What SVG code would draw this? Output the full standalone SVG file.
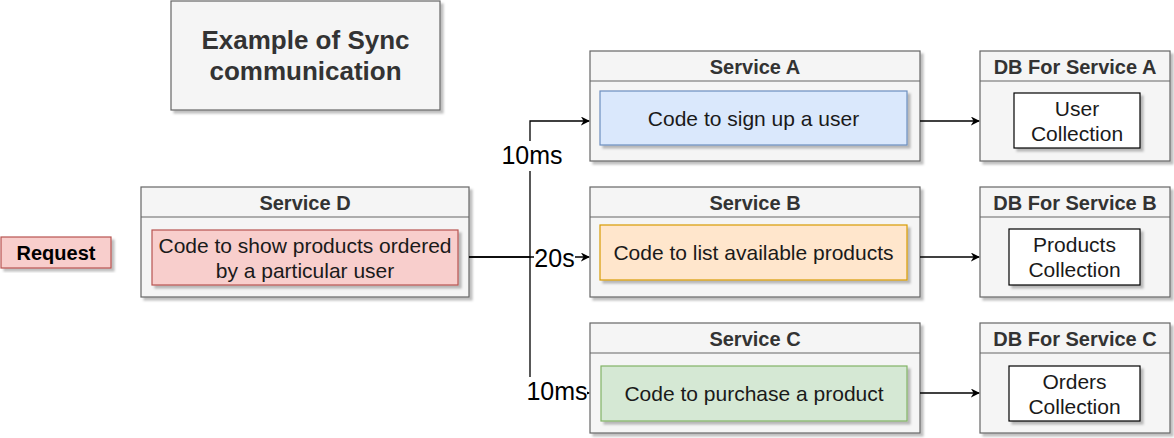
<svg xmlns="http://www.w3.org/2000/svg" width="1174" height="438" viewBox="0 0 1174 438">
<defs>
<filter id="sh" x="-5%" y="-5%" width="115%" height="120%">
<feDropShadow dx="3" dy="3" stdDeviation="0.8" flood-color="#000" flood-opacity="0.25"/>
</filter>
<marker id="arr" viewBox="0 0 10 10" refX="9" refY="5" markerWidth="9" markerHeight="9" markerUnits="userSpaceOnUse" orient="auto">
<path d="M0,0 L10,5 L0,10 L3,5 z" fill="#000"/>
</marker>
</defs>
<style>
.cont{fill:#f5f5f5;stroke:#666666;stroke-width:1.2;filter:url(#sh)}
.hline{stroke:#666666;stroke-width:1.2;fill:none}
.hd{font-family:"Liberation Sans",Arial,sans-serif;font-weight:bold;font-size:20px;fill:#333333;text-anchor:middle}
.tx{font-family:"Liberation Sans",Arial,sans-serif;font-size:21px;fill:#1a1a1a;text-anchor:middle}
.lbl{font-family:"Liberation Sans",Arial,sans-serif;font-size:25px;fill:#000;text-anchor:middle}
.blue{fill:#dae8fc;stroke:#6c8ebf;stroke-width:1.2;filter:url(#sh)}
.orange{fill:#ffe6cc;stroke:#d79b00;stroke-width:1.2;filter:url(#sh)}
.green{fill:#d5e8d4;stroke:#82b366;stroke-width:1.2;filter:url(#sh)}
.red{fill:#f8cecc;stroke:#b85450;stroke-width:1.2;filter:url(#sh)}
.white{fill:#ffffff;stroke:#000000;stroke-width:1.2;filter:url(#sh)}
.edge{stroke:#000;stroke-width:1.3;fill:none}
</style>

<g id="title">
<rect x="171" y="1" width="269" height="109" class="cont"/>
<text x="305.5" y="49" style="font-family:'Liberation Sans',Arial,sans-serif;font-weight:bold;font-size:26px;fill:#333333;text-anchor:middle">Example of Sync</text>
<text x="305.5" y="80" style="font-family:'Liberation Sans',Arial,sans-serif;font-weight:bold;font-size:26px;fill:#333333;text-anchor:middle">communication</text>
</g>

<g id="request">
<rect x="1" y="237" width="110" height="31" class="red"/>
<text x="56" y="260" style="font-family:'Liberation Sans',Arial,sans-serif;font-weight:bold;font-size:20px;fill:#000;text-anchor:middle">Request</text>
</g>

<g id="serviceD">
<rect x="141" y="187" width="328" height="110" class="cont"/>
<line x1="141" y1="217" x2="469" y2="217" class="hline"/>
<text x="305" y="210" class="hd">Service D</text>
<rect x="152" y="230" width="306" height="55" class="red"/>
<text x="305" y="252.5" class="tx">Code to show products ordered</text>
<text x="305" y="277.5" class="tx">by a particular user</text>
</g>

<g id="serviceA">
<rect x="590" y="51" width="330" height="110" class="cont"/>
<line x1="590" y1="81" x2="920" y2="81" class="hline"/>
<text x="755" y="74" class="hd">Service A</text>
<rect x="600" y="91" width="307" height="54" class="blue"/>
<text x="753.5" y="125.5" class="tx">Code to sign up a user</text>
</g>

<g id="serviceB">
<rect x="590" y="187" width="330" height="110" class="cont"/>
<line x1="590" y1="217" x2="920" y2="217" class="hline"/>
<text x="755" y="210" class="hd">Service B</text>
<rect x="600" y="225" width="307" height="55" class="orange"/>
<text x="753.5" y="260" class="tx">Code to list available products</text>
</g>

<g id="serviceC">
<rect x="590" y="323" width="330" height="110" class="cont"/>
<line x1="590" y1="353" x2="920" y2="353" class="hline"/>
<text x="755" y="346" class="hd">Service C</text>
<rect x="601" y="366" width="306" height="55" class="green"/>
<text x="754" y="401" class="tx">Code to purchase a product</text>
</g>

<g id="dbA">
<rect x="980" y="51" width="190" height="110" class="cont"/>
<line x1="980" y1="81" x2="1170" y2="81" class="hline"/>
<text x="1075" y="74" class="hd">DB For Service A</text>
<rect x="1014" y="93" width="126" height="55" class="white"/>
<text x="1077" y="115.5" class="tx">User</text>
<text x="1077" y="140.5" class="tx">Collection</text>
</g>

<g id="dbB">
<rect x="980" y="187" width="190" height="110" class="cont"/>
<line x1="980" y1="217" x2="1170" y2="217" class="hline"/>
<text x="1075" y="210" class="hd">DB For Service B</text>
<rect x="1009" y="229" width="131" height="56" class="white"/>
<text x="1074.5" y="252" class="tx">Products</text>
<text x="1074.5" y="277" class="tx">Collection</text>
</g>

<g id="dbC">
<rect x="980" y="323" width="190" height="110" class="cont"/>
<line x1="980" y1="353" x2="1170" y2="353" class="hline"/>
<text x="1075" y="346" class="hd">DB For Service C</text>
<rect x="1009" y="366" width="131" height="55" class="white"/>
<text x="1074.5" y="388.5" class="tx">Orders</text>
<text x="1074.5" y="413.5" class="tx">Collection</text>
</g>

<g id="connectors">
<path d="M469,257 L530,257 L530,121 L589,121" class="edge" marker-end="url(#arr)"/>
<path d="M469,257 L589,257" class="edge" marker-end="url(#arr)"/>
<path d="M530,257 L530,393 L589,393" class="edge" marker-end="url(#arr)"/>
<path d="M920,121 L979,121" class="edge" marker-end="url(#arr)"/>
<path d="M920,257 L979,257" class="edge" marker-end="url(#arr)"/>
<path d="M920,393 L979,393" class="edge" marker-end="url(#arr)"/>
<rect x="502" y="141" width="60" height="30" fill="#fff"/>
<text x="532" y="163.5" class="lbl">10ms</text>
<rect x="534" y="244" width="41" height="28" fill="#fff"/>
<text x="554.5" y="266.5" class="lbl">20s</text>
<rect x="527" y="377" width="60" height="28" fill="#fff"/>
<text x="557" y="399.5" class="lbl">10ms</text>
</g>
</svg>
